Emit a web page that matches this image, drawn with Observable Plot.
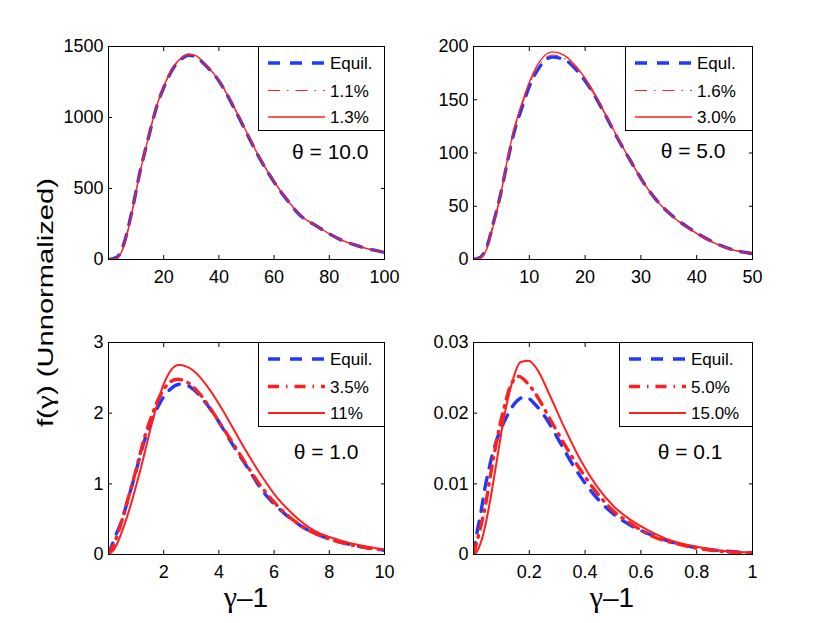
<!DOCTYPE html>
<html><head><meta charset="utf-8">
<script src="https://cdn.jsdelivr.net/npm/d3@7"></script>
<script src="https://cdn.jsdelivr.net/npm/@observablehq/plot@0.6"></script>
<style>
body{margin:0;background:#fff;}
#fig{position:relative;width:830px;height:623px;background:#fff;font-family:"Liberation Sans",Arial,Helvetica,sans-serif;overflow:hidden;}
.panel{position:absolute;}
</style></head><body><div id="fig"></div>
<script>
// ---------- Panel A: theta = 10.0 ----------
const thetaA = "θ = 10.0";
const legendA = ["Equil.", "1.1%", "1.3%"];
const xTicksA = [20, 40, 60, 80, 100];
const yTicksA = [0, 500, 1000, 1500];
const xA = [0, 3, 5.4, 8.5, 11.5, 14.5, 17.5, 20, 23.6, 26, 29, 32, 34.5, 40, 45.3, 50.2, 55, 60, 64.7, 69.5, 75, 79.2, 84, 88.9, 94, 100];
const yA_equil = [0, 15, 100, 340, 625, 860, 1080, 1210, 1352, 1405, 1438, 1425, 1380, 1258, 1075, 885, 705, 545, 420, 310, 240, 190, 140, 105, 75, 50];
const yA_dd = [0, 12, 95, 338, 625, 862, 1083, 1213, 1355, 1408, 1440, 1428, 1383, 1260, 1078, 888, 707, 547, 421, 311, 240, 190, 140, 105, 75, 50];
const yA_solid = [0, 8, 85, 330, 620, 862, 1085, 1218, 1360, 1413, 1446, 1432, 1386, 1262, 1080, 890, 708, 548, 422, 312, 241, 190, 140, 105, 75, 50];

// ---------- Panel B: theta = 5.0 ----------
const thetaB = "θ = 5.0";
const legendB = ["Equl.", "1.6%", "3.0%"];
const xTicksB = [10, 20, 30, 40, 50];
const yTicksB = [0, 50, 100, 150, 200];
const xB = [0, 1.2, 2.4, 3.6, 4.8, 6, 7.2, 8.7, 10.2, 12, 14.1, 16.2, 18.6, 21, 23.4, 25.7, 28.1, 30.5, 32.9, 35.3, 38.9, 42.5, 46.1, 50];
const yB_equil = [0, 2, 12, 35, 60, 90, 118, 143, 165, 182, 190, 188, 177, 160, 138, 115, 93, 72, 55, 42.5, 28.5, 17.5, 9.7, 5.6];
const yB_dd = [0, 2, 12, 35, 60, 91, 119, 145, 167, 184, 192, 189, 178, 160, 138, 115, 93, 72, 55, 42.5, 28.5, 17.5, 9.7, 5.6];
const yB_solid = [0, 1.5, 10, 33, 59, 92, 121, 147, 169, 187, 195, 192, 180, 162, 139, 116, 93, 72, 55, 42, 28, 17, 9.5, 5.5];

// ---------- Panel C: theta = 1.0 ----------
const thetaC = "θ = 1.0";
const legendC = ["Equil.", "3.5%", "11%"];
const xTicksC = [2, 4, 6, 8, 10];
const yTicksC = [0, 1, 2, 3];
const xC_equil = [0, 0.24, 0.48, 0.73, 0.97, 1.27, 1.57, 1.87, 2.24, 2.6, 2.96, 3.45, 3.93, 4.41, 5.02, 5.62, 6.23, 6.95, 7.92, 8.89, 10];
const yC_equil = [0, 0.25, 0.48, 0.81, 1.14, 1.57, 1.90, 2.15, 2.34, 2.41, 2.37, 2.18, 1.92, 1.61, 1.24, 0.88, 0.63, 0.41, 0.23, 0.13, 0.06];
const xC_dd = [0, 0.25, 0.5, 0.75, 1.0, 1.3, 1.6, 1.9, 2.2, 2.5, 2.8, 3.2, 3.6, 4.0, 4.5, 5.0, 5.5, 6.0, 6.5, 7.0, 8.0, 9.0, 10];
const yC_dd = [0, 0.2, 0.5, 0.85, 1.2, 1.65, 2.0, 2.27, 2.43, 2.48, 2.45, 2.32, 2.12, 1.88, 1.58, 1.27, 0.98, 0.74, 0.55, 0.4, 0.22, 0.12, 0.06];
const xC_solid = [0, 0.18, 0.67, 1.15, 1.63, 2.0, 2.54, 3.08, 3.69, 4.29, 4.9, 5.5, 6.1, 6.71, 7.44, 8.4, 10];
const yC_solid = [0, 0.06, 0.53, 1.19, 1.94, 2.41, 2.68, 2.6, 2.32, 1.94, 1.52, 1.14, 0.81, 0.56, 0.34, 0.2, 0.07];

// ---------- Panel D: theta = 0.1 ----------
const thetaD = "θ = 0.1";
const legendD = ["Equil.", "5.0%", "15.0%"];
const xTicksD = [0.2, 0.4, 0.6, 0.8, 1];
const yTicksD = [0, 0.01, 0.02, 0.03];
const xD_equil = [0, 0.012, 0.024, 0.042, 0.06, 0.084, 0.114, 0.15, 0.186, 0.222, 0.263, 0.311, 0.359, 0.419, 0.479, 0.551, 0.623, 0.707, 0.802, 0.898, 1.0];
const yD_equil = [0, 0.003, 0.0054, 0.0096, 0.0129, 0.0163, 0.0191, 0.0215, 0.0223, 0.0212, 0.0191, 0.0158, 0.0125, 0.0091, 0.0065, 0.0044, 0.003, 0.0018, 0.00095, 0.0005, 0.00024];
const xD_dd = [0, 0.02, 0.042, 0.06, 0.084, 0.108, 0.132, 0.162, 0.192, 0.228, 0.275, 0.323, 0.383, 0.443, 0.503, 0.563, 0.635, 0.73, 0.85, 1.0];
const yD_dd = [0, 0.003, 0.0068, 0.011, 0.0163, 0.0205, 0.0238, 0.0252, 0.0243, 0.0224, 0.0191, 0.0158, 0.012, 0.0087, 0.0061, 0.0044, 0.0027, 0.0015, 0.0006, 0.0002];
const xD_solid = [0, 0.012, 0.036, 0.06, 0.084, 0.108, 0.138, 0.168, 0.198, 0.228, 0.275, 0.323, 0.383, 0.443, 0.503, 0.563, 0.623, 0.707, 0.802, 0.9, 1.0];
const yD_solid = [0, 0.0004, 0.003, 0.0077, 0.0134, 0.0191, 0.0243, 0.0272, 0.0274, 0.0262, 0.0224, 0.0182, 0.0134, 0.0096, 0.0068, 0.0049, 0.0035, 0.002, 0.0011, 0.0005, 0.0003];

const yLabelParts = ["f(", "γ", ") (Unnormalized)"];
const xLabelParts = ["γ", "–1"];

// ---------- styles ----------
const BLUE = "#2238ff", RED = "#ff1f1f";
const FONT = '"Liberation Sans", Arial, Helvetica, sans-serif';
const SERIF = '"Liberation Serif", "DejaVu Serif", serif';
const styleEq = {stroke: BLUE, strokeWidth: 3.4, strokeDasharray: "12,10"};
const styleDdThin = {stroke: RED, strokeWidth: 1, strokeDasharray: "12,7,1.5,7"};
const styleDdThick = {stroke: RED, strokeWidth: 3.4, strokeDasharray: "11,7,1.5,7"};
const styleSolidThin = {stroke: RED, strokeWidth: 1.4};
const styleSolidThick = {stroke: RED, strokeWidth: 2};

const zip = (xs, ys) => xs.map((x, i) => ({x, y: ys[i]}));
const fmt = d => String(d);

const panels = [
  {L:108, T:46, W:276, H:213, legW:126, xDomain:[0,100], yDomain:[0,1500], xTicks:xTicksA, yTicks:yTicksA,
   theta:thetaA, tdx:-16, tdy:112, legend:legendA,
   series:[zip(xA,yA_equil), zip(xA,yA_dd), zip(xA,yA_solid)], styles:[styleEq, styleDdThin, styleSolidThin]},
  {L:473, T:46, W:279, H:213, legW:127, xDomain:[0,50], yDomain:[0,200], xTicks:xTicksB, yTicks:yTicksB,
   theta:thetaB, tdx:-27, tdy:111, legend:legendB,
   series:[zip(xB,yB_equil), zip(xB,yB_dd), zip(xB,yB_solid)], styles:[styleEq, styleDdThin, styleSolidThin]},
  {L:108, T:342, W:276, H:212, legW:126, xDomain:[0,10], yDomain:[0,3], xTicks:xTicksC, yTicks:yTicksC,
   theta:thetaC, tdx:-26, tdy:116, legend:legendC,
   series:[zip(xC_equil,yC_equil), zip(xC_dd,yC_dd), zip(xC_solid,yC_solid)], styles:[styleEq, styleDdThick, styleSolidThick]},
  {L:473, T:342, W:279, H:212, legW:133, xDomain:[0,1], yDomain:[0,0.03], xTicks:xTicksD, yTicks:yTicksD,
   theta:thetaD, tdx:-30, tdy:116, legend:legendD,
   series:[zip(xD_equil,yD_equil), zip(xD_dd,yD_dd), zip(xD_solid,yD_solid)], styles:[styleEq, styleDdThick, styleSolidThick]}
];

const fig = document.getElementById("fig");
const mL = 60, mR = 12, mT = 10, mB = 45;

for (const p of panels) {
  const chart = Plot.plot({
    width: p.W + mL + mR, height: p.H + mT + mB,
    marginLeft: mL, marginRight: mR, marginTop: mT, marginBottom: mB,
    style: {fontFamily: FONT, fontSize: "18px", color: "#000", background: "transparent", overflow: "visible"},
    x: {domain: p.xDomain, label: null},
    y: {domain: p.yDomain, label: null},
    marks: [
      ...p.series.map((s, i) => Plot.line(s, {x: "x", y: "y", curve: "monotone-x", clip: true, ...p.styles[i]})),
      Plot.frame({stroke: "#000", strokeWidth: 1}),
      Plot.axisX({anchor: "bottom", ticks: p.xTicks, tickFormat: fmt, tickSize: 0, tickPadding: 11, label: null}),
      Plot.axisX({anchor: "bottom", ticks: p.xTicks, tickSize: 4, dy: -4, fill: "none", label: null}),
      Plot.axisX({anchor: "top", ticks: p.xTicks, tickSize: 4, dy: 4, fill: "none", label: null}),
      Plot.axisY({anchor: "left", ticks: p.yTicks, tickFormat: fmt, tickSize: 0, tickPadding: 5, label: null}),
      Plot.axisY({anchor: "left", ticks: p.yTicks, tickSize: 4, dx: 4, fill: "none", label: null}),
      Plot.axisY({anchor: "right", ticks: p.yTicks, tickSize: 4, dx: -4, fill: "none", label: null}),
      Plot.text([p.theta], {frameAnchor: "top-right", textAnchor: "end", lineAnchor: "bottom", dx: p.tdx, dy: p.tdy, text: d => d, fontSize: 21, fill: "#000"})
    ]
  });
  // legend box inside the axes (top-right corner)
  const svg = d3.select(chart);
  const g = svg.append("g").attr("transform", `translate(${mL + p.W - p.legW},${mT})`);
  g.append("rect").attr("x", 0.5).attr("y", 0.5).attr("width", p.legW).attr("height", 84)
    .attr("fill", "#fff").attr("stroke", "#000").attr("stroke-width", 1);
  const rowY = [17, 44.5, 71];
  p.legend.forEach((lab, i) => {
    const st = p.styles[i];
    g.append("line").attr("x1", 10).attr("x2", 67).attr("y1", rowY[i]).attr("y2", rowY[i])
      .attr("stroke", st.stroke).attr("stroke-width", st.strokeWidth)
      .attr("stroke-dasharray", st.strokeDasharray || null);
    g.append("text").attr("x", 72).attr("y", rowY[i] + 6).attr("font-size", 17)
      .attr("text-anchor", "start")
      .attr("font-family", FONT).attr("fill", "#000").text(lab);
  });
  const div = document.createElement("div");
  div.className = "panel";
  div.style.left = (p.L - mL) + "px";
  div.style.top = (p.T - mT) + "px";
  div.appendChild(chart);
  fig.appendChild(div);
}

// axis titles
const ov = d3.select(fig).append("svg").attr("width", 830).attr("height", 623)
  .style("position", "absolute").style("left", 0).style("top", 0).style("pointer-events", "none")
  .style("font-family", FONT);
const yt = ov.append("text").attr("transform", "translate(53,302.5) rotate(-90)").attr("text-anchor", "middle")
  .attr("font-size", 22).attr("textLength", 249).attr("lengthAdjust", "spacingAndGlyphs");
yt.append("tspan").text(yLabelParts[0]);
yt.append("tspan").attr("font-family", SERIF).attr("font-size", 24).text(yLabelParts[1]);
yt.append("tspan").text(yLabelParts[2]);
for (const cx of [246, 612]) {
  const t = ov.append("text").attr("x", cx).attr("y", 607).attr("text-anchor", "middle").attr("font-size", 28);
  t.append("tspan").attr("font-family", SERIF).attr("font-size", 30).text(xLabelParts[0]);
  t.append("tspan").text(xLabelParts[1]);
}
</script>
</body></html>
